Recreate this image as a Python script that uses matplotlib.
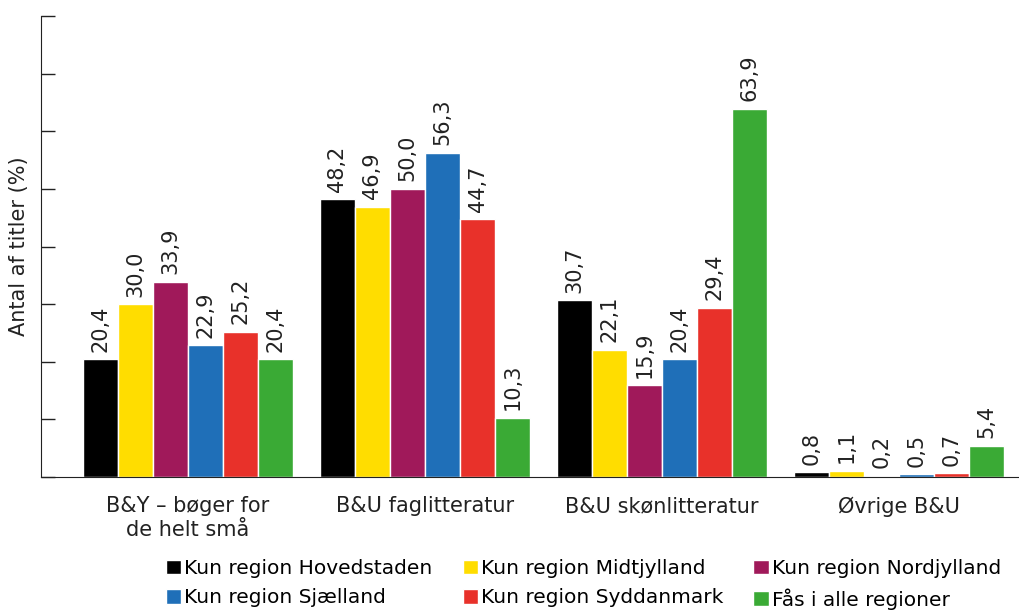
import numpy as np
import matplotlib.pyplot as plt

plt.rcParams['font.family'] = ['DejaVu Sans']

categories = ['B&Y – bøger for\nde helt små', 'B&U faglitteratur',
              'B&U skønlitteratur', 'Øvrige B&U']
series = ['Kun region Hovedstaden', 'Kun region Midtjylland',
          'Kun region Nordjylland', 'Kun region Sjælland',
          'Kun region Syddanmark', 'Fås i alle regioner']
values = [
    [20.4, 48.2, 30.7, 0.8],
    [30.0, 46.9, 22.1, 1.1],
    [33.9, 50.0, 15.9, 0.2],
    [22.9, 56.3, 20.4, 0.5],
    [25.2, 44.7, 29.4, 0.7],
    [20.4, 10.3, 63.9, 5.4],
]
colors = ['#000000', '#FFDD00', '#A0195A', '#1F6FB8', '#E8312A', '#3AAA35']

fig = plt.figure(figsize=(10.2, 6.16), dpi=100)
ax = fig.add_axes([0.040, 0.2256, 0.96, 0.7484])

x = np.arange(len(categories))
w = 0.148
handles = []
for i, (name, vals, col) in enumerate(zip(series, values, colors)):
    pos = x + (i - 2.5) * w
    b = ax.bar(pos, vals, w, color=col, edgecolor='white', linewidth=1, label=name)
    handles.append(b)
    for p, v in zip(pos, vals):
        ax.text(p, v + 1.3, f'{v:.1f}'.replace('.', ','), rotation=90,
                ha='center', va='bottom', fontsize=15, color='#222222')

ax.set_xlim(-0.62, 3.51)
ax.set_ylim(0, 80)
ax.set_yticks(np.arange(0, 81, 10))
ax.set_yticklabels([])
ax.tick_params(axis='y', direction='in', length=10, width=1, color='#222222')
ax.tick_params(axis='x', length=0, pad=14, labelsize=15, labelcolor='#222222')
ax.set_xticks(x)
ax.set_xticklabels(categories)
for s in ['top', 'right']:
    ax.spines[s].set_visible(False)
ax.spines['left'].set_color('#222222')
ax.spines['bottom'].set_color('#222222')
ax.set_ylabel('Antal af titler (%)', fontsize=15, color='#222222', labelpad=5)

order = [0, 3, 1, 4, 2, 5]
leg = ax.legend([handles[k] for k in order], [series[k] for k in order],
                ncol=3, loc='upper left', bbox_to_anchor=(0.128, -0.178),
                frameon=False, fontsize=14.5, handlelength=0.75, handleheight=0.75,
                handletextpad=0.15, columnspacing=1.5, labelspacing=0.5,
                borderpad=0, borderaxespad=0)

fig.savefig('out.png', dpi=100)
